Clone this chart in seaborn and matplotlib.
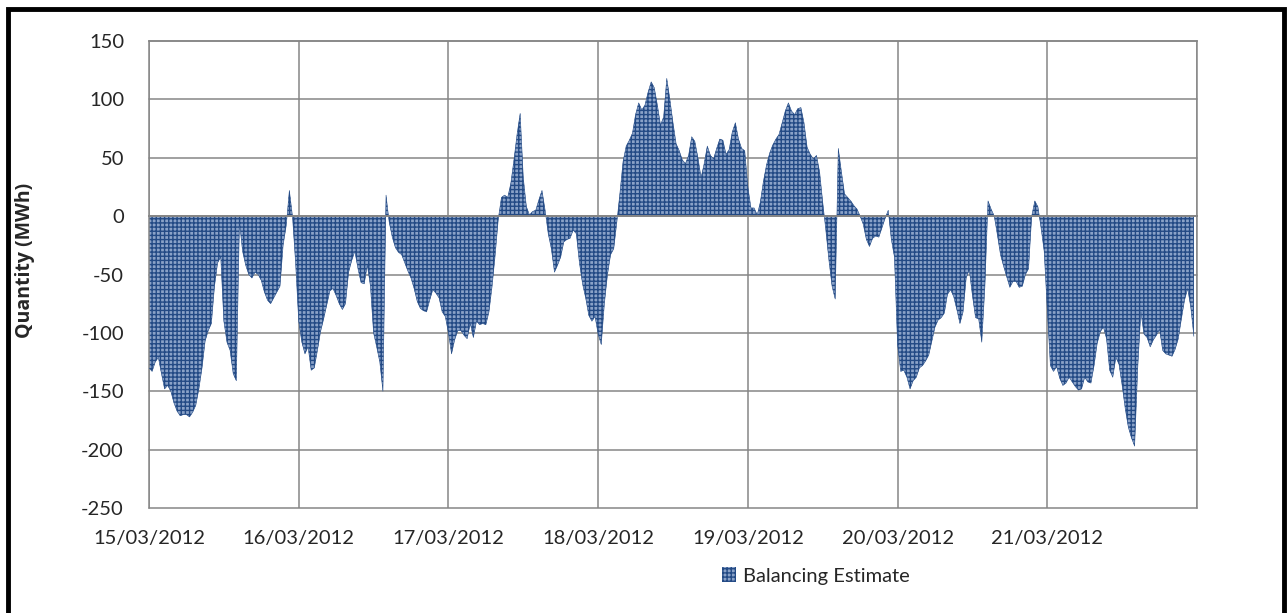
import numpy as np
import pandas as pd
import seaborn as sns
import matplotlib.pyplot as plt
import matplotlib.dates as mdates
from matplotlib.patches import Patch, Rectangle

# Half-hourly balancing estimate (MWh), one list per day
day_15 = [-130, -133, -125, -121, -135, -148, -145, -150, -160, -167, -171, -170,
          -170, -172, -168, -162, -148, -130, -107, -98, -92, -60, -40, -35,
          -90, -108, -115, -135, -141, -5, -30, -42, -50, -53, -48, -50,
          -55, -65, -72, -75, -70, -65, -60, -25, -8, 22, 0, -40]
day_16 = [-90, -108, -118, -112, -132, -130, -115, -99, -88, -76, -64, -62,
          -68, -75, -80, -75, -48, -38, -30, -45, -57, -58, -42, -60,
          -100, -112, -125, -150, 18, -5, -18, -27, -31, -33, -40, -47,
          -53, -62, -73, -79, -81, -82, -72, -63, -66, -70, -82, -86]
day_17 = [-100, -118, -106, -98, -98, -102, -105, -92, -104, -90, -93, -92,
          -93, -82, -60, -33, -2, 16, 18, 16, 28, 48, 70, 88,
          33, 8, 1, 4, 5, 14, 22, 5, -15, -28, -48, -42,
          -35, -22, -20, -19, -12, -15, -40, -58, -70, -85, -90, -86]
day_18 = [-101, -110, -75, -50, -33, -28, -5, 20, 47, 60, 65, 71,
          87, 97, 91, 95, 106, 115, 110, 95, 78, 85, 118, 100,
          80, 62, 56, 48, 45, 52, 68, 64, 50, 33, 45, 60,
          52, 49, 58, 66, 65, 53, 57, 72, 80, 66, 58, 56]
day_19 = [25, 7, 7, 1, 12, 30, 44, 54, 61, 66, 70, 80,
          90, 97, 90, 87, 92, 93, 80, 59, 53, 49, 52, 38,
          12, -12, -38, -60, -71, 58, 38, 19, 16, 13, 9, 6,
          0, -7, -20, -26, -19, -17, -18, -10, -2, 5, -20, -35]
day_20 = [-110, -133, -132, -138, -148, -141, -138, -130, -128, -124, -119, -107,
          -95, -89, -87, -83, -67, -63, -69, -80, -92, -82, -53, -46,
          -68, -87, -88, -108, -60, 13, 6, 0, -16, -33, -43, -52,
          -61, -56, -56, -61, -60, -50, -45, 0, 13, 8, -10, -30]
day_21 = [-80, -128, -133, -129, -139, -145, -143, -138, -142, -146, -149, -148,
          -138, -142, -143, -128, -109, -99, -95, -105, -132, -138, -121, -127,
          -145, -165, -181, -190, -197, -130, -82, -101, -104, -112, -106, -102,
          -97, -115, -118, -119, -120, -114, -105, -88, -72, -62, -78, -103]

start_date = "2012-03-15"
end_date = "2012-03-22"
series_name = "Balancing Estimate"

values = day_15 + day_16 + day_17 + day_18 + day_19 + day_20 + day_21
times = pd.date_range(start_date, periods=len(values), freq="30min")
df = pd.DataFrame({"Time": times, "Quantity": values})

fill_col = "#8aa2c8"
hatch_col = "#234a85"
grid_col = "#868686"

sns.set_style("white")
plt.rcParams["font.family"] = ["Lato", "DejaVu Sans"]
plt.rcParams["axes.unicode_minus"] = False
plt.rcParams["hatch.linewidth"] = 1.0

fig = plt.figure(figsize=(12.88, 6.13), dpi=100)
ax = fig.add_axes([149 / 1288, 1 - 508 / 613, (1197 - 149) / 1288, (508 - 41) / 613])

ax.fill_between(df["Time"], 0, df["Quantity"], facecolor=fill_col,
                edgecolor=hatch_col, hatch="++++", linewidth=0, zorder=2)
sns.lineplot(data=df, x="Time", y="Quantity", ax=ax, color=hatch_col,
             linewidth=0.4, zorder=3)

ax.set_xlim(pd.Timestamp(start_date), pd.Timestamp(end_date))
ax.set_ylim(-250, 150)
ax.set_yticks(np.arange(-250, 151, 50))

last_day = mdates.date2num(pd.Timestamp(end_date))


def day_label(x, pos):
    # the closing day of the axis carries no label
    if abs(x - last_day) < 1e-6:
        return ""
    return mdates.num2date(x).strftime("%d/%m/%Y")


ax.xaxis.set_major_locator(mdates.DayLocator())
ax.xaxis.set_minor_locator(mdates.HourLocator(byhour=[12]))
ax.xaxis.set_major_formatter(plt.FuncFormatter(day_label))

ax.grid(True, which="major", color=grid_col, linewidth=1.1, zorder=0)
for gl in ax.get_ygridlines():
    gl.set_clip_on(False)

for side in ["left", "right", "top"]:
    ax.spines[side].set_color(grid_col)
    ax.spines[side].set_linewidth(1.1)
ax.spines["bottom"].set_position(("data", 0))
ax.spines["bottom"].set_color(grid_col)
ax.spines["bottom"].set_linewidth(1.4)
ax.spines["bottom"].set_zorder(4)

# x ticks sit on the zero line, labels pushed to the bottom of the plot
ax.tick_params(axis="x", which="both", direction="out", length=4, width=1.1,
               color=grid_col, labelsize=14.5, pad=222)
ax.tick_params(axis="y", direction="out", length=6, width=1.1,
               color=grid_col, labelsize=14.5, pad=12)

ax.set_xlabel("")
ax.set_ylabel("Quantity (MWh)", fontsize=14, fontweight="bold",
              family=["Open Sans", "DejaVu Sans"])
ax.yaxis.set_label_coords(-0.109, 0.53)

handles = [Patch(facecolor=fill_col, edgecolor=hatch_col, hatch="++++",
                 linewidth=0, label=series_name)]
fig.legend(handles=handles, loc="center", bbox_to_anchor=(816 / 1288, 1 - 576 / 613),
           frameon=False, fontsize=14.5, handlelength=0.7, handleheight=0.7,
           handletextpad=0.35)

# chart area border
fig.patches.append(Rectangle((7.5 / 1288, -0.1), (1284 - 7.5) / 1288, 1.1 - 9 / 613,
                             transform=fig.transFigure, fill=False,
                             edgecolor="black", linewidth=3.5))

fig.savefig("out.png", dpi=100)
plt.close(fig)
